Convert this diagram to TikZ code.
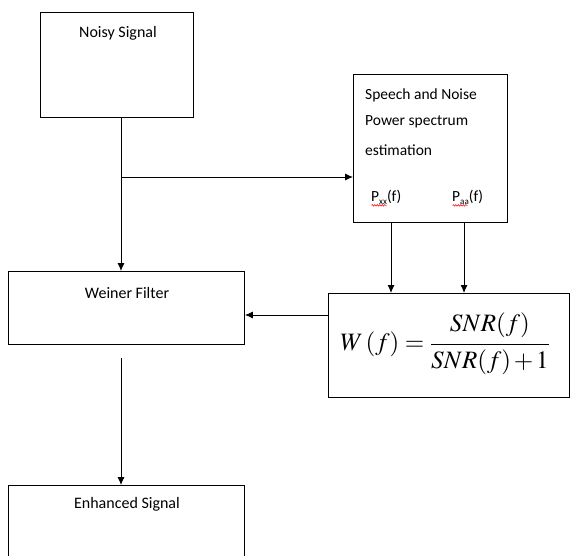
\documentclass[tikz,border=0pt]{standalone}
\usepackage{mathptmx}
\usepackage{fontspec}
\setmainfont{Carlito}
\usetikzlibrary{arrows.meta,decorations.pathmorphing}

\tikzset{
  box/.style={draw, line width=0.9pt, inner sep=0pt, anchor=north west},
  lbl/.style={font=\fontsize{16}{18}\selectfont, inner sep=0pt},
  est lbl/.style={font=\fontsize{15.5}{18}\selectfont, inner sep=0pt, anchor=west},
  conn/.style={line width=0.9pt, -{Latex[length=8pt,width=7pt]}},
  spell/.style={red, line width=0.5pt, decorate,
    decoration={snake, amplitude=0.8pt, segment length=2.5pt}}
}

\begin{document}
\begin{tikzpicture}[x=1pt, y=-1pt]
  \clip (0,0) rectangle (570,556);
  \fill[white] (0,0) rectangle (570,556);

  % blocks
  \node[box, minimum width=153pt, minimum height=105pt] (noisy) at (40,12) {};
  \node[box, minimum width=154pt, minimum height=148pt] (est) at (353,74) {};
  \node[box, minimum width=236pt, minimum height=73pt] (wf) at (8,271) {};
  \node[box, minimum width=241pt, minimum height=104pt] (wbox) at (328,293) {};
  \node[box, minimum width=236pt, minimum height=100pt] (enh) at (8,485) {};

  % block labels
  \node[lbl] (tnoisy) at (118,33) {Noisy Signal};
  \node[lbl] (twf) at (127,293) {Weiner Filter};
  \node[lbl] (tenh) at (127,504) {Enhanced Signal};
  \node[est lbl] (t1) at (365,95) {Speech and Noise};
  \node[est lbl] (t2) at (365,122) {Power spectrum};
  \node[est lbl] (t3) at (365,150) {estimation};
  \node[est lbl] (pxx) at (371,197) {P\raisebox{-0.4ex}{\fontsize{9}{10}\selectfont xx}(f)};
  \node[est lbl] (paa) at (452,197) {P\raisebox{-0.4ex}{\fontsize{9}{10}\selectfont aa}(f)};
  \draw[spell] ([xshift=0.5pt,yshift=-1pt]pxx.south west) -- ++(15,0);
  \draw[spell] ([xshift=0.5pt,yshift=-1pt]paa.south west) -- ++(15,0);

  % gain formula
  \node[inner sep=0pt] (eq) at (445,344)
    {\fontsize{25}{30}\selectfont \medmuskip=2mu \thickmuskip=4mu
     $\displaystyle W\,(f)=\frac{SNR(f)\vphantom{\big|}}{\vphantom{\big|}SNR(f)+1}$};

  % connectors
  \coordinate (split) at (121,177);
  \coordinate (wfout) at (121,358);
  \draw[conn] (noisy.south -| split) -- (wf.north -| split);
  \draw[conn] (split) -- (est.west |- split);
  \draw[conn] (est.south -| 391,0) -- (wbox.north -| 391,0);
  \draw[conn] (est.south -| 464,0) -- (wbox.north -| 464,0);
  \draw[conn] (wbox.west |- 0,315) -- (wf.east |- 0,315);
  \draw[conn] (wfout) -- (enh.north -| wfout);
\end{tikzpicture}
\end{document}
